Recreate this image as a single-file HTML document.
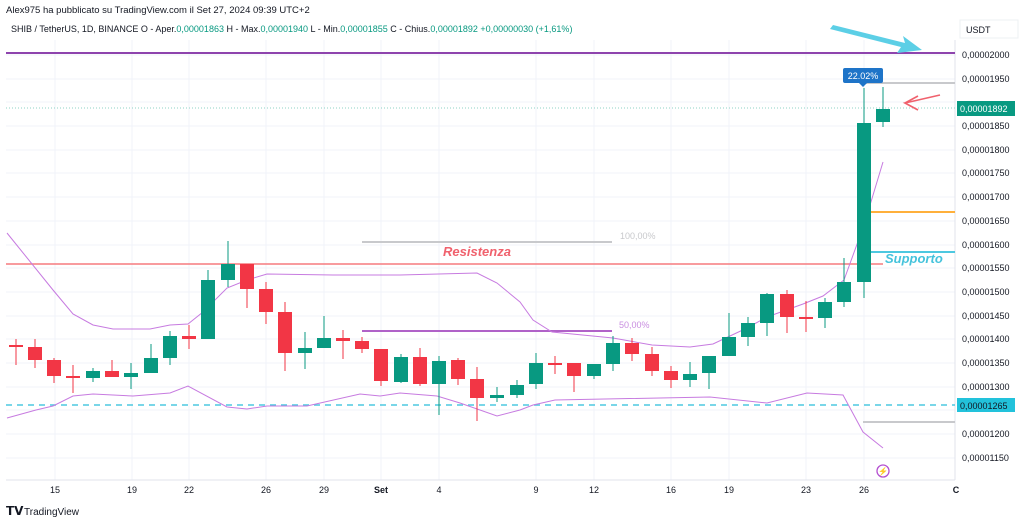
<!DOCTYPE html>
<html><head><meta charset="utf-8"><style>
body{margin:0;background:#fff;width:1024px;height:522px;overflow:hidden;font-family:"Liberation Sans",Arial,sans-serif}
svg{display:block}
</style></head><body>
<svg width="1024" height="522" viewBox="0 0 1024 522" font-family="Liberation Sans, Arial, sans-serif">
<text x="6" y="13" font-size="9.5" fill="#131722">Alex975 ha pubblicato su TradingView.com il Set 27, 2024 09:39 UTC+2</text>
<text x="11" y="32" font-size="9" fill="#131722">SHIB / TetherUS, 1D, BINANCE  O - Aper.<tspan fill="#089981">0,00001863</tspan>  H - Max.<tspan fill="#089981">0,00001940</tspan>  L - Min.<tspan fill="#089981">0,00001855</tspan>  C - Chius.<tspan fill="#089981">0,00001892  +0,00000030 (+1,61%)</tspan></text>
<!-- grid -->
<g stroke="#f0f3fa" stroke-width="1">
<line x1="55" y1="40" x2="55" y2="480"/><line x1="132" y1="40" x2="132" y2="480"/><line x1="189" y1="40" x2="189" y2="480"/><line x1="266" y1="40" x2="266" y2="480"/><line x1="324" y1="40" x2="324" y2="480"/><line x1="381" y1="40" x2="381" y2="480"/><line x1="439" y1="40" x2="439" y2="480"/><line x1="536" y1="40" x2="536" y2="480"/><line x1="594" y1="40" x2="594" y2="480"/><line x1="671" y1="40" x2="671" y2="480"/><line x1="729" y1="40" x2="729" y2="480"/><line x1="806" y1="40" x2="806" y2="480"/><line x1="864" y1="40" x2="864" y2="480"/>
<line x1="6" y1="55" x2="955" y2="55"/><line x1="6" y1="79" x2="955" y2="79"/><line x1="6" y1="102" x2="955" y2="102"/><line x1="6" y1="126" x2="955" y2="126"/><line x1="6" y1="150" x2="955" y2="150"/><line x1="6" y1="173" x2="955" y2="173"/><line x1="6" y1="197" x2="955" y2="197"/><line x1="6" y1="221" x2="955" y2="221"/><line x1="6" y1="245" x2="955" y2="245"/><line x1="6" y1="268" x2="955" y2="268"/><line x1="6" y1="292" x2="955" y2="292"/><line x1="6" y1="316" x2="955" y2="316"/><line x1="6" y1="339" x2="955" y2="339"/><line x1="6" y1="363" x2="955" y2="363"/><line x1="6" y1="387" x2="955" y2="387"/><line x1="6" y1="410" x2="955" y2="410"/><line x1="6" y1="434" x2="955" y2="434"/><line x1="6" y1="458" x2="955" y2="458"/>
</g>
<line x1="955" y1="40" x2="955" y2="480" stroke="#e0e3eb"/>
<line x1="6" y1="480" x2="955" y2="480" stroke="#e0e3eb"/>
<!-- horizontal drawings -->
<line x1="6" y1="53" x2="955" y2="53" stroke="#8e44ad" stroke-width="2"/>
<line x1="6" y1="108" x2="955" y2="108" stroke="#8fd3c6" stroke-width="1" stroke-dasharray="1 2"/>
<line x1="863" y1="83" x2="955" y2="83" stroke="#c8c9cc" stroke-width="2"/>
<line x1="870" y1="212" x2="955" y2="212" stroke="#ffb03b" stroke-width="2"/>
<line x1="870" y1="252" x2="955" y2="252" stroke="#4dc8e0" stroke-width="2"/>
<line x1="6" y1="264" x2="883" y2="264" stroke="#f57a7f" stroke-width="1.5"/>
<line x1="362" y1="242" x2="612" y2="242" stroke="#c8c9cc" stroke-width="2"/>
<line x1="362" y1="331" x2="612" y2="331" stroke="#b062c8" stroke-width="2"/>
<line x1="6" y1="405" x2="955" y2="405" stroke="#4dc8e0" stroke-width="1.5" stroke-dasharray="6 5"/>
<line x1="863" y1="422" x2="955" y2="422" stroke="#c8c9cc" stroke-width="2"/>
<text x="620" y="239" font-size="9" fill="#c8c9cc">100,00%</text>
<text x="619" y="328" font-size="9" fill="#c98ee0">50,00%</text>
<text x="443" y="256" font-size="13" font-weight="bold" font-style="italic" fill="#f0616d">Resistenza</text>
<text x="885" y="263" font-size="13" font-weight="bold" font-style="italic" fill="#45c3dc">Supporto</text>
<!-- bands -->
<polyline fill="none" stroke="#c77be0" stroke-width="1" points="7,233 53,290 73,314 93,325 113,329 150,329 170,325 188,324 203,312 227,288 247,280 267,274 333,275 400,275 477,273 497,283 520,302 533,320 552,332 613,338 652,345 690,347 713,344 747,328 767,317 803,304 823,296 844,280 864,225 883,162"/>
<polyline fill="none" stroke="#c77be0" stroke-width="1" points="7,418 36,410 53,406 73,396 93,394 133,396 170,393 188,386 227,407 247,409 267,406 307,406 360,394 380,396 400,393 437,396 460,403 497,416 520,410 533,405 555,400 710,397 767,403 807,393 843,395 863,432 883,448"/>
<!-- candles -->
<g id="c"></g>
<!-- arrows -->
<polygon points="833,25 905,43 903,36 922,50 897,53 901,47 830,29" fill="#5ccfe6"/>
<polyline points="940,95 905,103 918,110" fill="none" stroke="#f0616d" stroke-width="1.6"/>
<line x1="905" y1="103" x2="918" y2="96" stroke="#f0616d" stroke-width="1.6"/>
<!-- 22.02% label -->
<rect x="843" y="68" width="40" height="15" rx="2" fill="#1e74c8"/>
<polygon points="859,83 867,83 863,87" fill="#1e74c8"/>
<text x="863" y="79" font-size="9" fill="#fff" text-anchor="middle">22.02%</text>
<circle cx="883" cy="471" r="6" fill="none" stroke="#b44fd0" stroke-width="1.3"/>
<text x="883" y="474" font-size="8" fill="#b44fd0" text-anchor="middle">⚡</text>
<!-- price axis -->
<rect x="960" y="20" width="58" height="18" fill="#fff" stroke="#eef0f3"/>
<text x="966" y="33" font-size="9" fill="#131722">USDT</text>
<g font-size="9" fill="#131722">
<text x="962" y="58">0,00002000</text><text x="962" y="82">0,00001950</text><text x="962" y="129">0,00001850</text><text x="962" y="153">0,00001800</text><text x="962" y="176">0,00001750</text><text x="962" y="200">0,00001700</text><text x="962" y="224">0,00001650</text><text x="962" y="248">0,00001600</text><text x="962" y="271">0,00001550</text><text x="962" y="295">0,00001500</text><text x="962" y="319">0,00001450</text><text x="962" y="342">0,00001400</text><text x="962" y="366">0,00001350</text><text x="962" y="390">0,00001300</text><text x="962" y="437">0,00001200</text><text x="962" y="461">0,00001150</text>
</g>
<rect x="957" y="101" width="58" height="15" fill="#089981"/>
<text x="960" y="112" font-size="9" fill="#fff">0,00001892</text>
<rect x="957" y="398" width="58" height="14" fill="#22c2db"/>
<text x="960" y="409" font-size="9" fill="#131722">0,00001265</text>
<!-- time axis -->
<g font-size="9" fill="#131722" text-anchor="middle">
<text x="55" y="493">15</text><text x="132" y="493">19</text><text x="189" y="493">22</text><text x="266" y="493">26</text><text x="324" y="493">29</text><text x="381" y="493" font-weight="bold">Set</text><text x="439" y="493">4</text><text x="536" y="493">9</text><text x="594" y="493">12</text><text x="671" y="493">16</text><text x="729" y="493">19</text><text x="806" y="493">23</text><text x="864" y="493">26</text><text x="956" y="493" font-weight="bold">C</text>
</g>
<text x="6" y="515" font-size="12" font-weight="bold" fill="#131722">𝗧𝗩</text>
<text x="24" y="515" font-size="10" fill="#131722">TradingView</text>
</svg>
<script>
var d=[
[16,'r',345,347,339,365],[35,'r',347,360,339,368],[54,'r',360,376,358,383],[73,'r',376,378,365,393],[93,'g',371,378,368,382],[112,'r',371,377,360,377],[131,'g',373,377,363,389],[151,'g',358,373,344,373],[170,'g',336,358,331,365],[189,'r',336,339,325,349],[208,'g',280,339,270,339],[228,'g',264,280,241,287],[247,'r',264,289,264,308],[266,'r',289,312,282,324],[285,'r',312,353,302,371],[305,'g',348,353,332,369],[324,'g',338,348,316,348],[343,'r',338,341,330,359],[362,'r',341,349,337,353],[381,'r',349,381,349,386],[401,'g',357,382,354,383],[420,'r',357,384,348,386],[439,'g',361,384,356,415],[458,'r',360,379,358,385],[477,'r',379,398,367,421],[497,'g',395,398,387,402],[517,'g',385,395,380,398],[536,'g',363,384,353,389],[555,'r',363,364,356,374],[574,'r',363,376,363,392],[594,'g',364,376,364,379],[613,'g',343,364,336,371],[632,'r',343,354,338,361],[652,'r',354,371,347,376],[671,'r',371,380,366,388],[690,'g',374,380,362,387],[709,'g',356,373,356,389],[729,'g',337,356,313,356],[748,'g',323,337,317,346],[767,'g',294,323,293,336],[787,'r',294,317,290,333],[806,'r',317,318,301,332],[825,'g',302,318,298,328],[844,'g',282,302,258,307],[864,'g',123,282,88,298],[883,'g',109,122,87,127]];
var s='';d.forEach(function(c){var col=c[1]=='g'?'#089981':'#f23645';
s+='<line x1="'+c[0]+'" x2="'+c[0]+'" y1="'+c[4]+'" y2="'+c[5]+'" stroke="'+col+'" stroke-width="1"/>';
s+='<rect x="'+(c[0]-7)+'" y="'+c[2]+'" width="14" height="'+Math.max(2,c[3]-c[2])+'" fill="'+col+'"/>';});
document.getElementById('c').innerHTML=s;
</script>
</body></html>
